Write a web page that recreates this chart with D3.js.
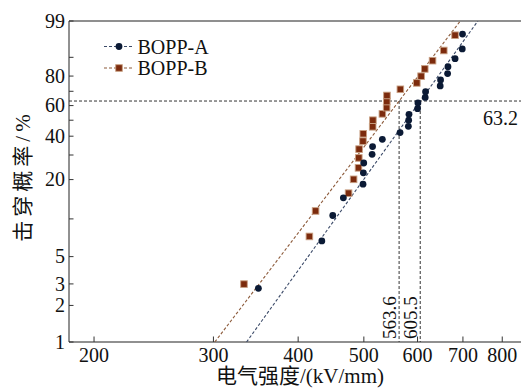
<!DOCTYPE html>
<html>
<head>
<meta charset="utf-8">
<script src="https://cdn.jsdelivr.net/npm/d3@7/dist/d3.min.js"></script>
<style>
  html, body { margin: 0; padding: 0; background: #fff; }
  svg { display: block; }
  text { font-family: "Times New Roman", "Liberation Serif", "DejaVu Serif", "Noto Sans CJK SC", serif; fill: #111; }
</style>
</head>
<body>
<svg id="chart" width="521" height="388"></svg>
<script>
// Breakdown strength (kV/mm), sorted ascending, with the median-rank failure probability (%)
const seriesNames = ["BOPP-A", "BOPP-B"];
const strengthA = [349.5, 433.5, 449.9, 466.4, 498.6, 499.2, 499.8, 514.2, 515.0, 532.4,
  565.4, 581.6, 582.2, 582.8, 600.0, 600.8, 615.8, 616.6, 648.0, 648.8,
  664.5, 665.3, 681.6, 698.4, 699.0];
const probA = [2.76, 6.69, 10.63, 14.57, 18.50, 22.44, 26.38, 30.31, 34.25, 38.19,
  42.13, 46.06, 50.00, 53.94, 57.87, 61.81, 65.75, 69.69, 73.62, 77.56,
  81.50, 85.43, 89.37, 93.31, 97.24];
const strengthB = [332.8, 415.6, 424.4, 474.7, 482.9, 491.0, 491.5, 492.0, 498.5, 499.0,
  515.2, 515.6, 532.5, 540.2, 540.5, 540.8, 566.0, 598.5, 607.3, 614.9,
  631.4, 655.9, 681.5];
const probB = [2.99, 7.26, 11.54, 15.81, 20.09, 24.36, 28.63, 32.91, 37.18, 41.45,
  45.73, 50.00, 54.27, 58.55, 62.82, 67.09, 71.37, 75.64, 79.91, 84.19,
  88.46, 92.74, 97.01];
// Weibull fit: scale (63.2% strength) and shape parameters
const etaValues = [605.5, 563.6];
const betaValues = [7.8, 7.35];
const refProb = 63.2;

const xTicks = [200, 300, 400, 500, 600, 700, 800];
const yTicksLabeled = [1, 2, 3, 5, 20, 40, 60, 80, 99];
const yTicksMinor = [10, 30, 50, 70, 90];

const svg = d3.select("#chart");
const plotLeft = 69, plotRight = 521, plotTop = 21, plotBottom = 342;
const serif = '"Times New Roman", "Liberation Serif", "DejaVu Serif", serif';
const cjk = '"Times New Roman", "Liberation Serif", "Noto Sans CJK SC", sans-serif';

// Weibull probability transform ln(-ln(1-F))
const wb = p => Math.log(-Math.log(1 - p / 100));

const x = d3.scaleLog().domain([183.7, 852.6]).range([plotLeft, plotRight]);
const yW = d3.scaleLinear().domain([wb(1), wb(99)]).range([plotBottom, plotTop]);
const y = p => yW(wb(p));

const colors = { A: "#0b1a35", B: "#7c2b0d" };
const lineColors = { A: "#3b4a68", B: "#8c5a3a" };

svg.append("clipPath").attr("id", "plotClip")
  .append("rect").attr("x", plotLeft).attr("y", plotTop)
  .attr("width", plotRight - plotLeft).attr("height", plotBottom - plotTop);

// frame
svg.append("line").attr("x1", plotLeft).attr("x2", plotRight).attr("y1", plotTop).attr("y2", plotTop)
  .attr("stroke", "#6a6a6a").attr("stroke-width", 1.5);
svg.append("line").attr("x1", plotLeft).attr("x2", plotLeft).attr("y1", plotTop).attr("y2", plotBottom)
  .attr("stroke", "#222").attr("stroke-width", 1);
svg.append("line").attr("x1", plotLeft).attr("x2", plotRight).attr("y1", plotBottom).attr("y2", plotBottom)
  .attr("stroke", "#222").attr("stroke-width", 1.2);

// y ticks (inward)
const yTickAll = yTicksLabeled.concat(yTicksMinor);
svg.append("g").selectAll("line").data(yTickAll).join("line")
  .attr("x1", plotLeft).attr("x2", plotLeft + 4.5)
  .attr("y1", d => y(d)).attr("y2", d => y(d))
  .attr("stroke", "#333").attr("stroke-width", 1);
svg.append("g").selectAll("text").data(yTicksLabeled).join("text")
  .attr("x", plotLeft - 4).attr("y", d => y(d)).attr("dy", "0.34em")
  .attr("text-anchor", "end").attr("font-size", 20).style("font-family", serif).text(d => d);

// x ticks (inward)
svg.append("g").selectAll("line").data(xTicks).join("line")
  .attr("x1", d => x(d)).attr("x2", d => x(d))
  .attr("y1", plotBottom).attr("y2", plotBottom - 5.5)
  .attr("stroke", "#333").attr("stroke-width", 1);
svg.append("g").selectAll("text").data(xTicks).join("text")
  .attr("x", d => x(d)).attr("y", 362)
  .attr("text-anchor", "middle").attr("font-size", 20).style("font-family", serif).text(d => d);

// axis titles
svg.append("text").attr("x", 300).attr("y", 383).attr("text-anchor", "middle")
  .attr("font-size", 21).style("font-family", cjk).text("电气强度/(kV/mm)");
svg.append("text").attr("transform", "translate(30,176) rotate(-90)")
  .attr("text-anchor", "middle").attr("font-size", 21).attr("letter-spacing", 4)
  .style("font-family", cjk).text("击穿概率/%");

// 63.2% reference lines
const yRef = y(refProb);
svg.append("line").attr("x1", plotLeft).attr("x2", plotRight).attr("y1", yRef).attr("y2", yRef)
  .attr("stroke", "#333").attr("stroke-width", 1).attr("stroke-dasharray", "3,2");
const etaSorted = etaValues.slice().sort((a, b) => a - b);
svg.append("g").selectAll("line").data(etaSorted).join("line")
  .attr("x1", d => x(d)).attr("x2", d => x(d)).attr("y1", yRef).attr("y2", plotBottom)
  .attr("stroke", "#333").attr("stroke-width", 1).attr("stroke-dasharray", "3,2");
svg.append("g").selectAll("text").data(etaSorted).join("text")
  .attr("transform", d => `translate(${x(d) - 3},339) rotate(-90)`)
  .attr("font-size", 19).style("font-family", serif).text(d => d.toFixed(1));
svg.append("text").attr("x", 518).attr("y", 125).attr("text-anchor", "end")
  .attr("font-size", 20).style("font-family", serif).text(refProb.toFixed(1));

// fitted Weibull lines
const fitG = svg.append("g").attr("clip-path", "url(#plotClip)");
[["A", 0], ["B", 1]].forEach(([k, i]) => {
  const eta = etaValues[i], beta = betaValues[i];
  const e0 = eta * Math.exp(wb(1) / beta), e1 = eta * Math.exp(wb(99) / beta);
  fitG.append("line")
    .attr("x1", x(e0)).attr("y1", yW(wb(1)))
    .attr("x2", x(e1)).attr("y2", yW(wb(99)))
    .attr("stroke", lineColors[k]).attr("stroke-width", 1.1).attr("stroke-dasharray", "3,2");
});

// data points
const ptsA = strengthA.map((v, i) => ({ v, p: probA[i] }));
const ptsB = strengthB.map((v, i) => ({ v, p: probB[i] }));
svg.append("g").selectAll("rect").data(ptsB).join("rect")
  .attr("x", d => x(d.v) - 3.3).attr("y", d => y(d.p) - 3.3)
  .attr("width", 6.6).attr("height", 6.6)
  .attr("fill", colors.B).attr("stroke", "#c9a083").attr("stroke-width", 0.9);
svg.append("g").selectAll("circle").data(ptsA).join("circle")
  .attr("cx", d => x(d.v)).attr("cy", d => y(d.p)).attr("r", 3.4)
  .attr("fill", colors.A);

// legend
const legend = svg.append("g");
[0, 1].forEach(i => {
  const ly = 46.5 + i * 21.5;
  legend.append("line").attr("x1", 104).attr("x2", 132).attr("y1", ly).attr("y2", ly)
    .attr("stroke", i === 0 ? lineColors.A : lineColors.B).attr("stroke-width", 1.1)
    .attr("stroke-dasharray", "3,2");
  if (i === 0) {
    legend.append("circle").attr("cx", 119).attr("cy", ly).attr("r", 3.4).attr("fill", colors.A);
  } else {
    legend.append("rect").attr("x", 119 - 3.3).attr("y", ly - 3.3).attr("width", 6.6).attr("height", 6.6)
      .attr("fill", colors.B).attr("stroke", "#c9a083").attr("stroke-width", 0.9);
  }
  legend.append("text").attr("x", 137.5).attr("y", ly + 7).attr("font-size", 20)
    .style("font-family", serif).text(seriesNames[i]);
});
</script>
</body>
</html>
